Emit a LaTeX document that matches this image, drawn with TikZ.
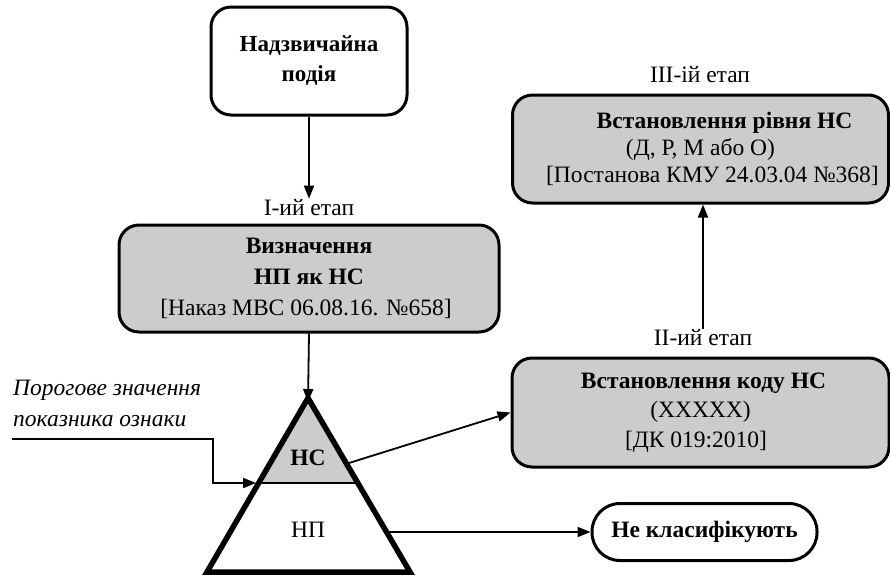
\documentclass[tikz,border=0pt]{standalone}
\usepackage{fontspec}
\setmainfont{Liberation Serif}
\usetikzlibrary{arrows.meta}
\definecolor{boxgray}{RGB}{204,204,204}
\begin{document}
\begin{tikzpicture}[x=1pt,y=-1pt,
  txt/.style={font=\fontsize{23.5}{29}\selectfont},
  roundbox/.style={draw,line width=3pt,rounded corners=20pt,align=center,inner sep=0pt,txt},
  graybox/.style={roundbox,fill=boxgray},
  conn/.style={line width=1.8pt,-{Triangle[length=13pt,width=10pt]}},
  plain/.style={line width=1.8pt}]
\useasboundingbox (0,0) rectangle (890,574);
% boxes
\node[roundbox,minimum width=196pt,minimum height=108pt,font=\fontsize{23}{30}\selectfont\bfseries] (top) at (309,61) {Надзвичайна\\подія};
\node[txt,inner sep=1pt] (lab1) at (309,208) {I-ий етап};
\node[graybox,minimum width=380pt,minimum height=107pt,font=\fontsize{23.5}{31}\selectfont] (b1) at (309,278.5) {\textbf{Визначення}\\\textbf{НП як НС}\\{}[Наказ МВС 06.08.16. №658]\hspace*{6pt}};
\node[txt] (lab3) at (700,75) {III-ій етап};
\node[graybox,minimum width=376pt,minimum height=108pt,font=\fontsize{23.5}{27}\selectfont] (b3) at (700.5,149) {\hspace*{48pt}\textbf{Встановлення рівня НС}\\(Д, Р, М або О)\hspace*{6pt}\\\hspace*{24pt}[Постанова КМУ 24.03.04 №368]};
\node[txt,inner sep=1pt] (lab2) at (703,338) {II-ий етап};
\node[graybox,minimum width=377pt,minimum height=109pt,font=\fontsize{23.5}{29.5}\selectfont] (b2) at (700.5,412.5) {\hspace*{6pt}\textbf{Встановлення коду НС}\\(XXXXX)\hspace*{12pt}\\{}[ДК 019:2010]\hspace*{9pt}};
\node[draw,line width=3pt,rounded corners=28pt,minimum width=225pt,minimum height=57pt,inner sep=0pt,font=\fontsize{23.5}{29}\selectfont\bfseries] (nk) at (704.5,532) {Не класифікують};
% triangle
\coordinate (apex) at (308,398);
\coordinate (bl) at (207,572);
\coordinate (br) at (410,572);
\coordinate (dl) at (258.7,483);
\coordinate (dr) at (357.3,483);
\fill[boxgray] (apex) -- (dl) -- (dr) -- cycle;
\draw[line width=2pt] (dl) -- (dr);
\draw[line width=5.5pt,line join=miter] (apex) -- (br) -- (bl) -- cycle;
\node[font=\fontsize{23.5}{29}\selectfont\bfseries] (hs) at (308,458) {НС};
\node[txt] (np) at (308,530) {НП};
% threshold text
\node[font=\fontsize{23.5}{31}\selectfont\itshape,align=left,anchor=west,inner sep=0pt] (thr) at (13,403) {Порогове значення\\показника ознаки};
\coordinate (t0) at (12,439);
\coordinate (t1) at (213,439);
\coordinate (t2) at (213,483);
\coordinate (t3) at (256,483);
\draw[conn] (t0) -- (t1) -- (t2) -- (t3);
% connectors
\draw[conn] (top.south) -- (lab1.north);
\draw[conn] (b1.south) -- ([yshift=-4pt]apex);
\coordinate (hsout) at (349,463);
\draw[conn] (hsout) -- (b2.west);
\draw[conn] (lab2.north) -- (lab2.north |- b3.south);
\coordinate (npout) at (387,532);
\draw[conn] (npout) -- (nk.west);
\end{tikzpicture}
\end{document}
